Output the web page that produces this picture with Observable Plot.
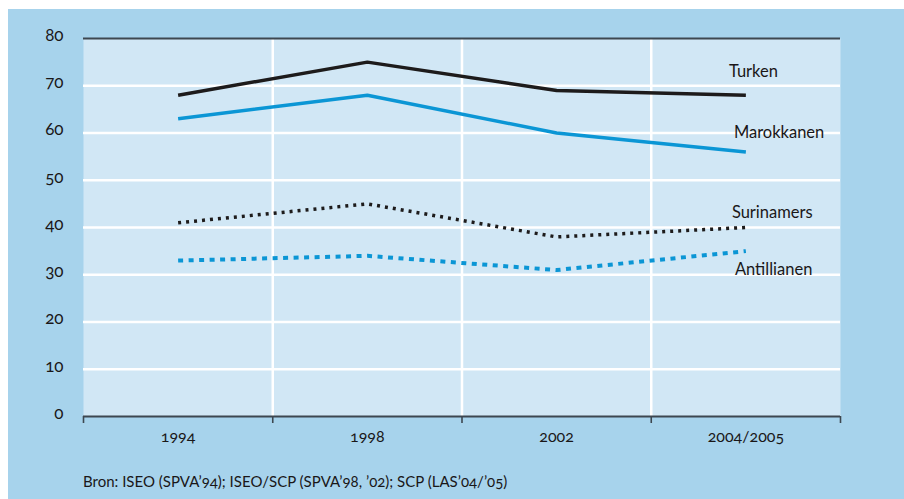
<!DOCTYPE html>
<html>
<head>
<meta charset="utf-8">
<script src="https://cdn.jsdelivr.net/npm/d3@7"></script>
<script src="https://cdn.jsdelivr.net/npm/@observablehq/plot@0.6"></script>
<style>
  html, body { margin: 0; padding: 0; background: #ffffff; }
  body { width: 904px; height: 499px; position: relative; overflow: hidden; font-family: Lato, "Open Sans", sans-serif; }
  #panel { position: absolute; left: 8px; top: 9px; width: 896px; height: 490px; background: #a7d3ec; }
  #chart { position: absolute; left: 0; top: 0; }
  #caption { position: absolute; left: 75px; top: 463px; font-size: 15px; color: #1a1718; font-variant-numeric: oldstyle-nums; }
  svg text { font-variant-numeric: oldstyle-nums; }
</style>
</head>
<body>
<div id="panel">
  <div id="chart"></div>
  <div id="caption">Bron: ISEO (SPVA’94); ISEO/SCP (SPVA’98, ’02); SCP (LAS’04/’05)</div>
</div>
<script>
// Data
const periods = ["1994", "1998", "2002", "2004/2005"];
const turken = [68, 75, 69, 68];
const marokkanen = [63, 68, 60, 56];
const surinamers = [41, 45, 38, 40];
const antillianen = [33, 34, 31, 35];
const yTicks = [0, 10, 20, 30, 40, 50, 60, 70, 80];

const series = [
  {name: "Turken", values: turken, stroke: "#1d1b1b", dash: null, width: 3.5, dx: -17, dy: -23},
  {name: "Marokkanen", values: marokkanen, stroke: "#0b96d5", dash: null, width: 3.5, dx: -12, dy: -19},
  {name: "Surinamers", values: surinamers, stroke: "#1d1b1b", dash: "3 5", width: 3.5, dx: -14, dy: -15},
  {name: "Antillianen", values: antillianen, stroke: "#0b96d5", dash: "5 5.5", width: 4, dx: -11, dy: 19}
];

// index-based positions: period i is centred in the interval [i, i+1]
const rows = series.map(s => s.values.map((v, i) => ({series: s.name, period: periods[i], pos: i + 0.5, value: v})));
const bounds = d3.range(periods.length + 1);
const inner = bounds.slice(1, -1);
const centers = periods.map((p, i) => i + 0.5);

const marks = [
  Plot.frame({fill: "#d1e7f5", stroke: null}),
  Plot.ruleY(yTicks.filter(t => t > 0 && t < 80), {stroke: "#ffffff", strokeWidth: 2.5}),
  Plot.ruleX(inner, {stroke: "#ffffff", strokeWidth: 2.5}),
  Plot.ruleY([80], {stroke: "#3d4750", strokeWidth: 2}),
  Plot.ruleY([0], {stroke: "#3d4750", strokeWidth: 2}),
  Plot.axisX({ticks: bounds, tickSize: 7, stroke: "#3d4750", strokeWidth: 1.6, text: null, label: null}),
  Plot.axisX({ticks: centers, tickSize: 0, tickPadding: 14, tickFormat: d => periods[Math.floor(d)], fontSize: 16, fill: "#1a1718", label: null}),
  Plot.axisY({ticks: yTicks, tickSize: 0, tickPadding: 20, fontSize: 17, fill: "#1a1718", dy: -3, label: null})
];

series.forEach((s, k) => {
  marks.push(Plot.line(rows[k], {
    x: "pos", y: "value", stroke: s.stroke, strokeWidth: s.width,
    strokeDasharray: s.dash, strokeLinecap: "butt", strokeLinejoin: "miter", curve: "linear"
  }));
  marks.push(Plot.text([rows[k][rows[k].length - 1]], {
    x: "pos", y: "value", text: () => s.name, textAnchor: "start",
    dx: s.dx, dy: s.dy, fontSize: 16.5, fill: "#1a1718"
  }));
});

const chart = Plot.plot({
  width: 896,
  height: 450,
  marginLeft: 75,
  marginRight: 64,
  marginTop: 29,
  marginBottom: 43,
  style: {background: "transparent", fontFamily: "Lato, 'Open Sans', sans-serif", overflow: "visible"},
  x: {type: "linear", domain: [0, periods.length], axis: null, label: null},
  y: {domain: [0, 80], axis: null, label: null},
  marks
});
document.getElementById("chart").appendChild(chart);
</script>
</body>
</html>
